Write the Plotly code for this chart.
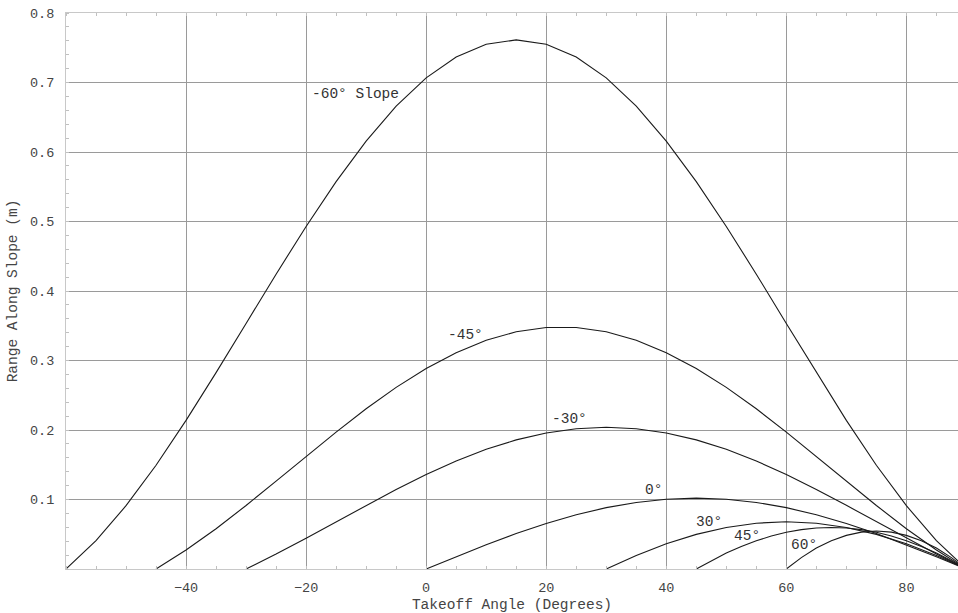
import plotly.graph_objects as go

# Takeoff angle (degrees) and range along slope (m) for each slope
x_m60 = [-60, -55, -50, -45, -40, -35, -30, -25, -20, -15, -10, -5, 0, 5, 10, 15, 20, 25, 30, 35, 40, 45, 50, 55, 60, 65, 70, 75, 80, 85, 90]
y_m60 = [0, 0.0408, 0.0911, 0.1493, 0.2138, 0.2825, 0.3533, 0.4242, 0.4929, 0.5573, 0.6156, 0.6659, 0.7067, 0.7367, 0.7551, 0.7613, 0.7551, 0.7367, 0.7067, 0.6659, 0.6156, 0.5573, 0.4929, 0.4242, 0.3533, 0.2825, 0.2138, 0.1493, 0.0911, 0.0408, 0]

x_m45 = [-45, -40, -35, -30, -25, -20, -15, -10, -5, 0, 5, 10, 15, 20, 25, 30, 35, 40, 45, 50, 55, 60, 65, 70, 75, 80, 85, 90]
y_m45 = [0, 0.0273, 0.0580, 0.0914, 0.1265, 0.1620, 0.1970, 0.2305, 0.2613, 0.2885, 0.3113, 0.3291, 0.3413, 0.3475, 0.3475, 0.3413, 0.3291, 0.3113, 0.2885, 0.2613, 0.2305, 0.1970, 0.1620, 0.1265, 0.0914, 0.0580, 0.0273, 0]

x_m30 = [-30, -25, -20, -15, -10, -5, 0, 5, 10, 15, 20, 25, 30, 35, 40, 45, 50, 55, 60, 65, 70, 75, 80, 85, 90]
y_m30 = [0, 0.0215, 0.0444, 0.0680, 0.0916, 0.1145, 0.1360, 0.1554, 0.1722, 0.1858, 0.1958, 0.2019, 0.2040, 0.2019, 0.1958, 0.1858, 0.1722, 0.1554, 0.1360, 0.1145, 0.0916, 0.0680, 0.0444, 0.0215, 0]

x_0 = [0, 5, 10, 15, 20, 25, 30, 35, 40, 45, 50, 55, 60, 65, 70, 75, 80, 85, 90]
y_0 = [0, 0.0177, 0.0349, 0.0510, 0.0656, 0.0781, 0.0883, 0.0958, 0.1004, 0.1020, 0.1004, 0.0958, 0.0883, 0.0781, 0.0656, 0.0510, 0.0349, 0.0177, 0]

x_30 = [30, 35, 40, 45, 50, 55, 60, 65, 70, 75, 80, 85, 90]
y_30 = [0, 0.0194, 0.0362, 0.0498, 0.0598, 0.0659, 0.0680, 0.0659, 0.0598, 0.0498, 0.0362, 0.0194, 0]

x_45 = [45, 47.5, 50, 52.5, 55, 57.5, 60, 62.5, 65, 67.5, 70, 72.5, 75, 77.5, 80, 82.5, 85, 87.5, 90]
y_45 = [0, 0.0120, 0.0229, 0.0324, 0.0406, 0.0474, 0.0528, 0.0566, 0.0590, 0.0597, 0.0590, 0.0566, 0.0528, 0.0474, 0.0406, 0.0324, 0.0229, 0.0120, 0]

x_60 = [60, 62.5, 65, 67.5, 70, 72.5, 75, 77.5, 80, 82.5, 85, 87.5, 90]
y_60 = [0, 0.0164, 0.0301, 0.0408, 0.0484, 0.0531, 0.0547, 0.0531, 0.0484, 0.0408, 0.0301, 0.0164, 0]

# Curve labels: text, x, y
label_text = ["-60° Slope", "-45°", "-30°", "0°", "30°", "45°", "60°"]
label_x = [-11.8, 6.5, 23.8, 37.8, 47.1, 53.4, 63.0]
label_y = [0.684, 0.336, 0.216, 0.114, 0.067, 0.048, 0.035]

x_tickvals = [-40, -20, 0, 20, 40, 60, 80]
y_tickvals = [0.1, 0.2, 0.3, 0.4, 0.5, 0.6, 0.7, 0.8]

FONT = "Liberation Mono, Courier New, monospace"

fig = go.Figure()
for xs, ys in [(x_m60, y_m60), (x_m45, y_m45), (x_m30, y_m30), (x_0, y_0),
               (x_30, y_30), (x_45, y_45), (x_60, y_60)]:
    fig.add_trace(go.Scatter(x=xs, y=ys, mode="lines",
                             line=dict(color="#1a1a1a", width=1.1),
                             showlegend=False, hoverinfo="skip"))

for t, lx, ly in zip(label_text, label_x, label_y):
    fig.add_annotation(x=lx, y=ly, text=t, showarrow=False,
                       font=dict(family=FONT, size=14.5, color="#333"))

fig.update_layout(
    width=958, height=613,
    margin=dict(l=66, r=0, t=13, b=44),
    plot_bgcolor="white", paper_bgcolor="white",
    font=dict(family=FONT, color="#444"),
    showlegend=False,
)
fig.update_xaxes(
    range=[-60, 88.6], tickvals=x_tickvals,
    showgrid=True, gridcolor="#9a9a9a", gridwidth=1,
    zeroline=False, showline=True, linecolor="#c8c8c8", linewidth=1,
    mirror="ticks", ticks="",
    minor=dict(ticks="inside", dtick=5, tick0=0, ticklen=3, tickcolor="#c0c0c0", showgrid=False),
    tickfont=dict(family=FONT, size=13.5, color="#444"),
    ticklabelstandoff=6,
    title=dict(text="Takeoff Angle (Degrees)", font=dict(family=FONT, size=14.5, color="#444"), standoff=7),
)
fig.update_yaxes(
    range=[0, 0.8], tickvals=y_tickvals, tickformat=".1f",
    showgrid=True, gridcolor="#9a9a9a", gridwidth=1,
    zeroline=False, showline=True, linecolor="#c8c8c8", linewidth=1,
    mirror=False, ticks="",
    minor=dict(ticks="inside", dtick=0.02, tick0=0, ticklen=3, tickcolor="#c0c0c0", showgrid=False),
    tickfont=dict(family=FONT, size=13.5, color="#444"),
    ticklabelstandoff=8,
    title=dict(text="Range Along Slope (m)", font=dict(family=FONT, size=14.5, color="#444"), standoff=8),
)

fig.write_html("out.html", config={"displayModeBar": False},
               post_script="document.body.style.margin='0px';")
